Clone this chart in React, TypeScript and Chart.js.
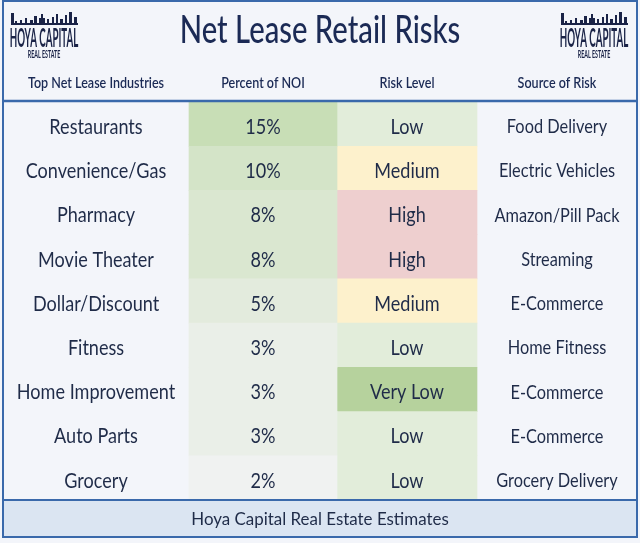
import { useEffect, useRef } from "react";
import { Chart, registerables } from "chart.js";

Chart.register(...registerables);

// ---------- data ----------
const industries = [
  "Restaurants",
  "Convenience/Gas",
  "Pharmacy",
  "Movie Theater",
  "Dollar/Discount",
  "Fitness",
  "Home Improvement",
  "Auto Parts",
  "Grocery",
];
const noiPercent = [15, 10, 8, 8, 5, 3, 3, 3, 2];
const riskLevels = ["Low", "Medium", "High", "High", "Medium", "Low", "Very Low", "Low", "Low"];
const riskSources = [
  "Food Delivery",
  "Electric Vehicles",
  "Amazon/Pill Pack",
  "Streaming",
  "E-Commerce",
  "Home Fitness",
  "E-Commerce",
  "E-Commerce",
  "Grocery Delivery",
];
const columnHeaders = ["Top Net Lease Industries", "Percent of NOI", "Risk Level", "Source of Risk"];
const titleText = "Net Lease Retail Risks";
const footerText = "Hoya Capital Real Estate Estimates";
const logoTop = "HOYA CAPITAL";
const logoBottom = "REAL ESTATE";

// ---------- layout / style ----------
const COLUMN_WIDTHS = [186, 148, 140, 160];
const colEdges: number[] = [0];
COLUMN_WIDTHS.forEach((w, i) => colEdges.push(colEdges[i] + w));
const TOTAL = colEdges[colEdges.length - 1];

const BG = "#f3f5fa";
const NAVY = "#1b2a55";
const TEXT = "#1f2b48";
const FRAME = "#3a69ab";
const FOOTER_BG = "#dbe5f2";
const RISK_COLORS: Record<string, string> = {
  "Very Low": "#b6d29d",
  Low: "#e2edda",
  Medium: "#fdf1cc",
  High: "#eecfcf",
};
const LOW_RGB = [240, 242, 241];
const HIGH_RGB = [200, 222, 182];
const FONT = "Lato, 'Open Sans', sans-serif";

function heatColor(v: number) {
  const lo = Math.min(...noiPercent);
  const hi = Math.max(...noiPercent);
  const t = Math.pow((v - lo) / (hi - lo), 0.75);
  const c = LOW_RGB.map((l, i) => Math.round(l + (HIGH_RGB[i] - l) * t));
  return `rgb(${c[0]},${c[1]},${c[2]})`;
}

function drawText(
  ctx: CanvasRenderingContext2D,
  s: string,
  x: number,
  y: number,
  font: string,
  color: string,
  sx = 0.86
) {
  ctx.save();
  ctx.font = font;
  ctx.fillStyle = color;
  ctx.textAlign = "center";
  ctx.textBaseline = "middle";
  ctx.translate(x, y);
  ctx.scale(sx, 1);
  ctx.fillText(s, 0, 0);
  ctx.restore();
}

// decorative skyline for the logo: [offset, width, height]
const SKYLINE: number[][] = [
  [0, 3, 11], [4, 2, 3], [9, 2, 4], [14, 2, 6], [19, 3, 4], [23, 3, 8],
  [28, 6, 6], [30, 2, 10], [36, 2, 5], [41, 2, 7], [45, 2, 10], [49, 3, 5],
  [54, 2, 9], [58, 3, 12], [63, 3, 7],
];

function drawLogo(ctx: CanvasRenderingContext2D, cx: number) {
  const left = cx - 33;
  ctx.save();
  ctx.fillStyle = "#1a2347";
  ctx.fillRect(left, 23, 67, 2);
  SKYLINE.forEach(([o, w, h]) => ctx.fillRect(left + o, 24 - h, w, h));
  ctx.restore();
  drawText(ctx, logoTop, cx, 38, `bold 27px ${FONT}`, "#1a2347", 0.36);
  drawText(ctx, logoBottom, cx, 54.5, `bold 11px ${FONT}`, "#1a2347", 0.48);
}

const tablePlugin = {
  id: "tableText",
  beforeDraw(chart: any) {
    const { ctx, width, height } = chart;
    ctx.save();
    ctx.fillStyle = BG;
    ctx.fillRect(0, 0, width, height);
    ctx.restore();
  },
  afterDatasetsDraw(chart: any) {
    const { ctx, scales, chartArea } = chart;
    const xs = scales.x;
    const ys = scales.y;
    const colCenter = (i: number) => xs.getPixelForValue((colEdges[i] + colEdges[i + 1]) / 2);

    // title + logos
    drawText(ctx, titleText, 320, 31, `500 38px ${FONT}`, NAVY, 0.77);
    drawLogo(ctx, 44);
    drawLogo(ctx, 594);

    // column headers
    columnHeaders.forEach((h, i) => {
      drawText(ctx, h, colCenter(i), 83, `600 15.5px ${FONT}`, NAVY, 0.81);
    });

    // cells
    industries.forEach((name, r) => {
      const y = ys.getPixelForValue(r) + 3;
      drawText(ctx, name, colCenter(0), y, `21px ${FONT}`, TEXT, 0.86);
      drawText(ctx, `${noiPercent[r]}%`, colCenter(1), y, `21px ${FONT}`, TEXT, 0.86);
      drawText(ctx, riskLevels[r], colCenter(2), y, `21px ${FONT}`, TEXT, 0.86);
      drawText(ctx, riskSources[r], colCenter(3), y, `19px ${FONT}`, TEXT, 0.86);
    });

    // footer
    const fTop = chartArea.bottom;
    ctx.save();
    ctx.fillStyle = FOOTER_BG;
    ctx.fillRect(chartArea.left, fTop, chartArea.right - chartArea.left, 37);
    ctx.strokeStyle = FRAME;
    ctx.lineWidth = 2;
    ctx.beginPath();
    ctx.moveTo(chartArea.left, fTop);
    ctx.lineTo(chartArea.right, fTop);
    ctx.stroke();
    // header separator
    ctx.lineWidth = 2.5;
    ctx.beginPath();
    ctx.moveTo(chartArea.left, chartArea.top - 1);
    ctx.lineTo(chartArea.right, chartArea.top - 1);
    ctx.stroke();
    // outer frame
    ctx.lineWidth = 2;
    ctx.strokeRect(chartArea.left, 1, chartArea.right - chartArea.left, fTop + 37 - 1);
    ctx.restore();
    drawText(ctx, footerText, 320, fTop + 19, `18px ${FONT}`, TEXT, 0.94);
  },
};

export default function App() {
  const ref = useRef<HTMLCanvasElement | null>(null);

  useEffect(() => {
    document.body.style.margin = "0";
    const canvas = ref.current;
    if (!canvas) return;
    const chart = new Chart(canvas, {
      type: "bar",
      data: {
        labels: industries,
        datasets: [
          {
            label: "Percent of NOI",
            data: noiPercent.map(() => [colEdges[1], colEdges[2]]) as any,
            backgroundColor: noiPercent.map(heatColor),
            borderWidth: 0,
            grouped: false,
            barPercentage: 1,
            categoryPercentage: 1,
          } as any,
          {
            label: "Risk Level",
            data: riskLevels.map(() => [colEdges[2], colEdges[3]]) as any,
            backgroundColor: riskLevels.map((l) => RISK_COLORS[l]),
            borderWidth: 0,
            grouped: false,
            barPercentage: 1,
            categoryPercentage: 1,
          } as any,
        ],
      },
      options: {
        indexAxis: "y",
        responsive: false,
        animation: false,
        layout: { padding: { left: 3, right: 3, top: 102, bottom: 43 } },
        scales: {
          x: { type: "linear", min: 0, max: TOTAL, display: false },
          y: { type: "category", display: false },
        },
        plugins: {
          legend: { display: false },
          tooltip: { enabled: false },
        },
      },
      plugins: [tablePlugin],
    });
    return () => chart.destroy();
  }, []);

  return (
    <div style={{ position: "absolute", left: 0, top: 0, width: 640, height: 543 }}>
      <canvas ref={ref} width={640} height={543} style={{ display: "block" }} />
    </div>
  );
}
